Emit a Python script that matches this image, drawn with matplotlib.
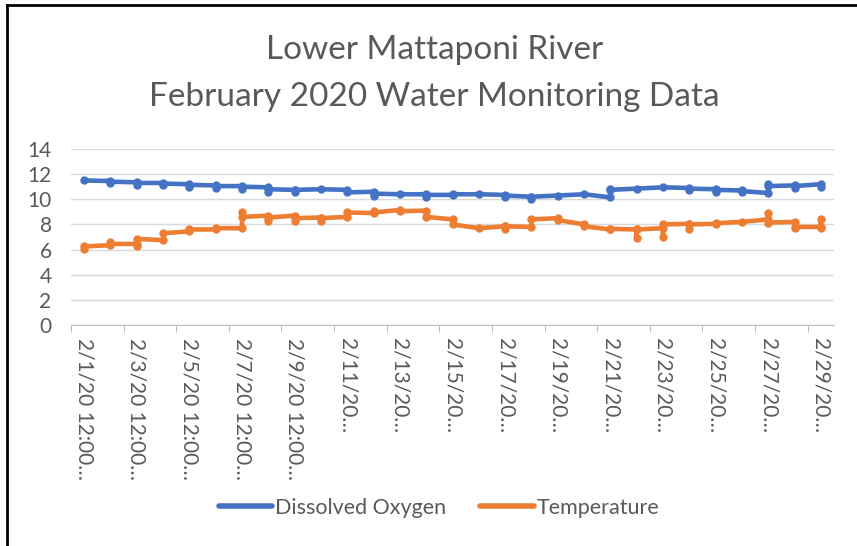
import matplotlib
matplotlib.use("Agg")
import matplotlib.pyplot as plt
from matplotlib.lines import Line2D

plt.rcParams['font.family'] = ['Lato', 'DejaVu Sans']

# readings per day (several readings per day share one x position on a date axis)
days = list(range(1, 30))
oxygen = [
    [11.5], [11.45, 11.3, 11.4], [11.35, 11.1, 11.3], [11.3, 11.15, 11.25],
    [11.2, 11.0, 11.15], [11.1, 10.9, 11.05], [11.05, 10.8, 11.0],
    [10.95, 10.55, 10.8], [10.75, 10.6, 10.75], [10.8], [10.75, 10.55],
    [10.6, 10.3, 10.45], [10.4], [10.4, 10.2, 10.35], [10.35, 10.4], [10.4],
    [10.35, 10.2, 10.3], [10.2, 10.0, 10.2], [10.3], [10.4],
    [10.15, 10.85, 10.75], [10.85], [10.95], [10.9, 10.75, 10.85],
    [10.8, 10.6, 10.75], [10.7, 10.55, 10.65], [10.5, 11.2, 11.05],
    [11.1, 10.9, 11.05], [11.2, 10.95],
]
temperature = [
    [6.05, 6.25], [6.35, 6.6, 6.45], [6.45, 6.3, 6.85], [6.75, 7.3],
    [7.45, 7.6], [7.6, 7.7], [7.7, 9.0, 8.6], [8.7, 8.3, 8.55],
    [8.7, 8.3, 8.5], [8.55, 8.25, 8.5], [8.6, 8.95], [8.9, 9.05, 8.95],
    [9.15, 9.05], [9.1, 8.6], [8.4, 8.0], [7.7], [7.85, 7.65, 7.85],
    [7.8, 8.4], [8.5, 8.35], [8.0, 7.85], [7.6, 7.65], [7.6, 6.95, 7.6],
    [7.7, 7.0, 8.0], [8.05, 7.6, 8.0], [8.05, 8.1], [8.2], [8.4, 8.9, 8.15],
    [8.2, 7.7, 7.8], [7.8, 8.4, 7.7],
]
label_days = list(range(1, 30, 2))
tick_labels = ["2/1/20 12:00…", "2/3/20 12:00…", "2/5/20 12:00…", "2/7/20 12:00…",
               "2/9/20 12:00…", "2/11/20…", "2/13/20…", "2/15/20…", "2/17/20…",
               "2/19/20…", "2/21/20…", "2/23/20…", "2/25/20…", "2/27/20…", "2/29/20…"]

blue = "#4472C4"
orange = "#ED7D31"
grey = "#595959"


def flatten(series):
    xs, ys = [], []
    for d, vals in zip(days, series):
        for v in vals:
            xs.append(d)
            ys.append(v)
    return xs, ys


fig = plt.figure(figsize=(8.57, 5.46), dpi=100)
ax = fig.add_axes([71 / 857, 1 - 325 / 546, (834 - 71) / 857, (325 - 149) / 546])

for series, col in [(oxygen, blue), (temperature, orange)]:
    xs, ys = flatten(series)
    ax.plot(xs, ys, color=col, lw=3.3, marker='o', ms=5,
            solid_joinstyle='round', solid_capstyle='round', zorder=3)

ax.set_xlim(0.5, 29.5)
ax.set_ylim(0, 14)
ax.set_yticks(range(0, 15, 2))
ax.yaxis.grid(True, color="#D9D9D9", lw=1)
ax.tick_params(axis='y', length=0, labelsize=15, labelcolor=grey, pad=14)

ax.set_xticks([d - 0.5 for d in label_days])
ax.set_xticklabels([])
ax.set_xticks(label_days, minor=True)
ax.set_xticklabels(tick_labels, minor=True, rotation=270, va='top', ha='center')
ax.tick_params(axis='x', which='major', length=5, color="#BFBFBF", direction='out')
ax.tick_params(axis='x', which='minor', length=0, labelsize=15, labelcolor=grey, pad=9)

for s in ['top', 'right', 'left']:
    ax.spines[s].set_visible(False)
ax.spines['bottom'].set_color("#BFBFBF")

fig.text(0.507, 1 - 50 / 546, "Lower Mattaponi River", ha='center', va='center',
         fontsize=24, color=grey)
fig.text(0.507, 1 - 97 / 546, "February 2020 Water Monitoring Data", ha='center',
         va='center', fontsize=24, color=grey)

handles = [Line2D([], [], color=blue, lw=4, solid_capstyle='round'),
           Line2D([], [], color=orange, lw=4, solid_capstyle='round')]
fig.legend(handles, ["Dissolved Oxygen", "Temperature"], loc='center',
           bbox_to_anchor=(0.512, 1 - 508 / 546), ncol=2, frameon=False,
           fontsize=15.5, labelcolor=grey, handlelength=2.5, handletextpad=0.1,
           columnspacing=1.6)

# chart border
fig.add_artist(Line2D([7 / 857, 7 / 857], [0, 1 - 5 / 546], color='black', lw=2,
                      transform=fig.transFigure))
fig.add_artist(Line2D([7 / 857, 1], [1 - 5 / 546, 1 - 5 / 546], color='black', lw=2,
                      transform=fig.transFigure))

fig.savefig("out.png", dpi=100)
